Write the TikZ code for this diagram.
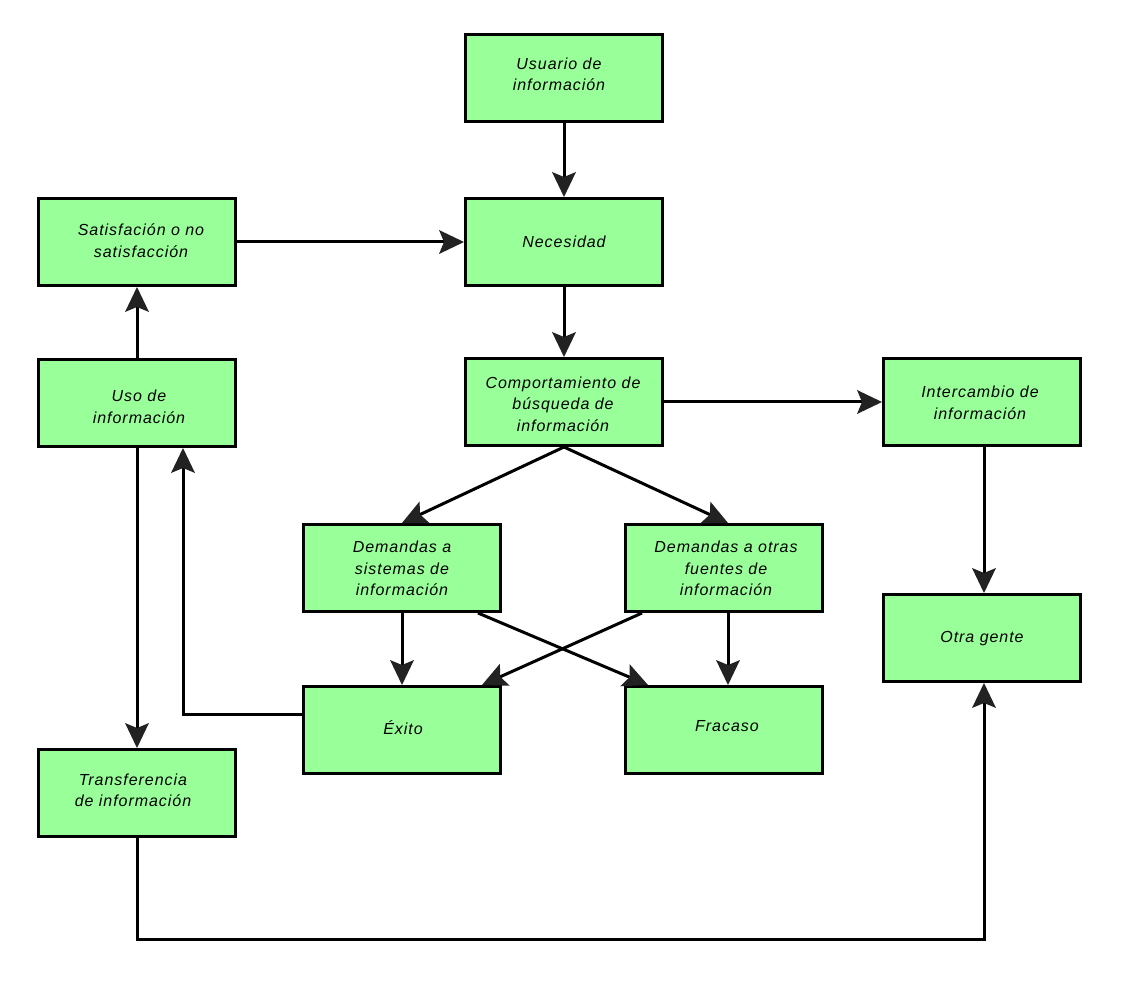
\documentclass[tikz,border=0pt]{standalone}
\usepackage{fontspec}
\setmainfont{Liberation Sans}[LetterSpace=6]
\usetikzlibrary{arrows.meta,positioning}
\definecolor{boxfill}{HTML}{99FF99}
\definecolor{tipc}{HTML}{222222}
\newcommand\Tx[3]{\hspace*{#1}\raisebox{#2}[\height][\depth]{\begin{tabular}{@{}c@{}}#3\end{tabular}}}
\begin{document}
\begin{tikzpicture}[x=1pt,y=-1pt,
  box/.style={draw=black,fill=boxfill,line width=3pt,minimum width=197pt,minimum height=87pt,
    inner sep=2pt,align=center,font=\fontsize{16pt}{21.5pt}\selectfont\itshape},
  conn/.style={line width=3pt,draw=black},
  arr/.style={conn,-{Stealth[length=25pt,width=24pt,inset=5pt,line width=0pt,color=tipc]}}]
\useasboundingbox[fill=white] (0,0) rectangle (1128,984);
\node[box] (usu) at (564,78) {\Tx{-10pt}{2.5pt}{Usuario de\\información}};
\node[box] (nec) at (564,242) {\Tx{0pt}{-1.5pt}{Necesidad}};
\node[box] (sat) at (137,242) {\Tx{8pt}{0pt}{Satisfación o no\\satisfacción}};
\node[box] (uso) at (137,403) {\Tx{4pt}{-5pt}{Uso de\\información}};
\node[box] (com) at (564,402) {\Tx{-2pt}{-3.5pt}{Comportamiento de\\búsqueda de\\información}};
\node[box] (int) at (982,402) {\Tx{-4pt}{-2pt}{Intercambio de\\información}};
\node[box] (sis) at (402,568) {\Tx{0pt}{-2pt}{Demandas a\\sistemas de\\información}};
\node[box] (otr) at (724,568) {\Tx{4pt}{-2pt}{Demandas a otras\\fuentes de\\información}};
\node[box] (exi) at (402,730) {\Tx{2pt}{0pt}{Éxito}};
\node[box] (fra) at (724,730) {\Tx{6pt}{3pt}{Fracaso}};
\node[box] (gen) at (982,638) {\Tx{0pt}{0pt}{Otra gente}};
\node[box] (tra) at (137,793) {\Tx{-8pt}{1.5pt}{Transferencia\\de información}};
\coordinate (c1) at (183,714);
\coordinate (c2) at (137,939);
\coordinate (c3) at (984,939);
\draw[arr] (usu.south) -- (nec.north);
\draw[arr] (sat.east) -- (nec.west);
\draw[arr] (nec.south) -- (com.north);
\draw[arr] (com.east) -- (int.west);
\draw[arr] (com.south) -- (sis.north);
\draw[arr] (com.south) -- ([xshift=4pt]otr.north);
\draw[arr] (sis.south) -- (exi.north);
\draw[arr] ([xshift=76pt]sis.south) -- ([xshift=-76pt]fra.north);
\draw[arr] ([xshift=-82pt]otr.south) -- ([xshift=80pt]exi.north);
\draw[arr] ([xshift=4pt]otr.south) -- ([xshift=4pt]fra.north);
\draw[arr] (c1 -| exi.west) -- (c1) -- (c1 |- uso.south);
\draw[arr] (uso.north) -- (sat.south);
\draw[arr] (uso.south) -- (tra.north);
\draw[arr] (tra.south) -- (c2) -- (c3) -- (c3 |- gen.south);
\draw[arr] ([xshift=2pt]int.south) -- ([xshift=2pt]gen.north);
\end{tikzpicture}
\end{document}
